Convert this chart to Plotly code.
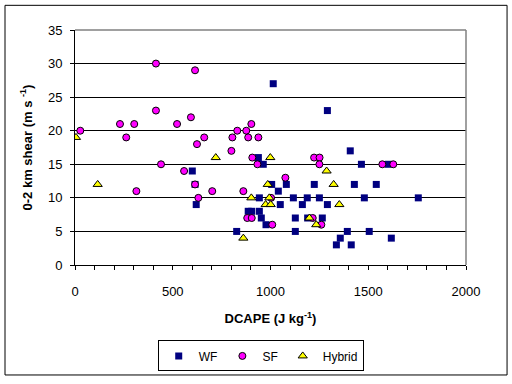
import plotly.graph_objects as go

# ---- data (DCAPE J/kg, 0-2 km shear m/s) ----
wf_x = [600, 1014, 938, 963, 614, 1006, 1040, 1081, 620, 943, 1050, 1117, 1163, 886, 904, 943,
        953, 977, 1127, 1127, 827, 1291, 1408, 1465, 1603, 1756, 1618, 1224, 1429, 1541, 1188,
        1250, 1480, 1291, 1190, 1265, 1393, 1505, 1357, 1337, 1413]
wf_y = [14, 27, 16, 15, 12, 12, 11, 12, 9, 10, 9, 10, 9, 8, 8, 8,
        7, 6, 7, 5, 5, 23, 17, 15, 15, 10, 4, 12, 12, 12, 10,
        10, 10, 9, 7, 7, 5, 5, 4, 3, 3]

sf_x = [27, 414, 614, 414, 230, 303, 522, 593, 262, 624, 440, 558, 902, 830, 876, 661, 805,
        886, 938, 800, 907, 933, 614, 702, 861, 1076, 631, 1003, 881, 904, 1009, 314, 1223,
        1251, 1250, 1572, 1628, 1216, 1260]
sf_y = [20, 30, 29, 23, 21, 21, 21, 22, 19, 18, 15, 14, 21, 20, 20, 19, 19,
        19, 19, 17, 16, 15, 12, 11, 11, 13, 10, 10, 7, 7, 6, 11, 16,
        16, 15, 15, 15, 7, 6]

hy_x = [5, 116, 720, 999, 861, 902, 986, 994, 975, 1001, 1287, 1323, 1352, 1199, 1234]
hy_y = [19, 12, 16, 16, 4, 10, 12, 10, 9, 9, 14, 12, 9, 7, 6]

series_names = ["WF", "SF", "Hybrid"]
x_title = "DCAPE (J kg<sup>-1</sup>)"
y_title = "0-2 km shear (m s <sup>-1</sup>)"

FONT = "Arial, Liberation Sans, sans-serif"

fig = go.Figure()
fig.add_trace(go.Scatter(x=wf_x, y=wf_y, mode="markers", name=series_names[0],
                         marker=dict(symbol="square", size=7, color="#000080",
                                     line=dict(width=0))))
fig.add_trace(go.Scatter(x=sf_x, y=sf_y, mode="markers", name=series_names[1],
                         marker=dict(symbol="circle", size=7, color="#FF00FF",
                                     line=dict(width=1, color="black"))))
fig.add_trace(go.Scatter(x=hy_x, y=hy_y, mode="markers", name=series_names[2],
                         marker=dict(symbol="triangle-up", size=8, color="#FFFF00",
                                     line=dict(width=1, color="black"))))

# outer chart border and gray plot-area top/right border
fig.add_shape(type="rect", xref="paper", yref="paper",
              x0=-0.179, x1=1.105, y0=-0.468, y1=1.105,
              line=dict(color="black", width=1), layer="below")
fig.add_shape(type="line", xref="paper", yref="paper", x0=0, x1=1, y0=1, y1=1,
              line=dict(color="#808080", width=1.5), layer="above")
fig.add_shape(type="line", xref="paper", yref="paper", x0=1, x1=1, y0=0, y1=1,
              line=dict(color="#808080", width=1.5), layer="above")

fig.update_layout(
    width=512, height=384,
    margin=dict(l=75, r=46, t=30, b=117),
    paper_bgcolor="white", plot_bgcolor="white",
    font=dict(family=FONT, size=12, color="black"),
    showlegend=True,
    legend=dict(orientation="h", x=0.475, xanchor="center", y=-0.321, yanchor="top",
                bordercolor="black", borderwidth=1, bgcolor="white",
                font=dict(size=12), itemwidth=30, tracegroupgap=0),
    xaxis=dict(range=[0, 2000], dtick=500, tick0=0, showgrid=False, zeroline=False,
               showline=True, linecolor="black", linewidth=1,
               ticks="outside", ticklen=4, tickcolor="black",
               minor=dict(dtick=100, ticks="outside", ticklen=4, tickcolor="black", showgrid=False),
               tickfont=dict(size=13), ticklabelstandoff=10,
               title=dict(text=x_title, font=dict(size=13, weight="bold"), standoff=16)),
    yaxis=dict(range=[0, 35], dtick=5, tick0=0, showgrid=True, gridcolor="black", gridwidth=1,
               zeroline=False, showline=True, linecolor="black", linewidth=1,
               ticks="outside", ticklen=4, tickcolor="black",
               tickfont=dict(size=13), ticklabelstandoff=5,
               title=dict(text=y_title, font=dict(size=13, weight="bold"), standoff=12)),
)

fig.write_html("out.html", config={"displayModeBar": False},
               post_script="document.body.style.margin='0px';")
